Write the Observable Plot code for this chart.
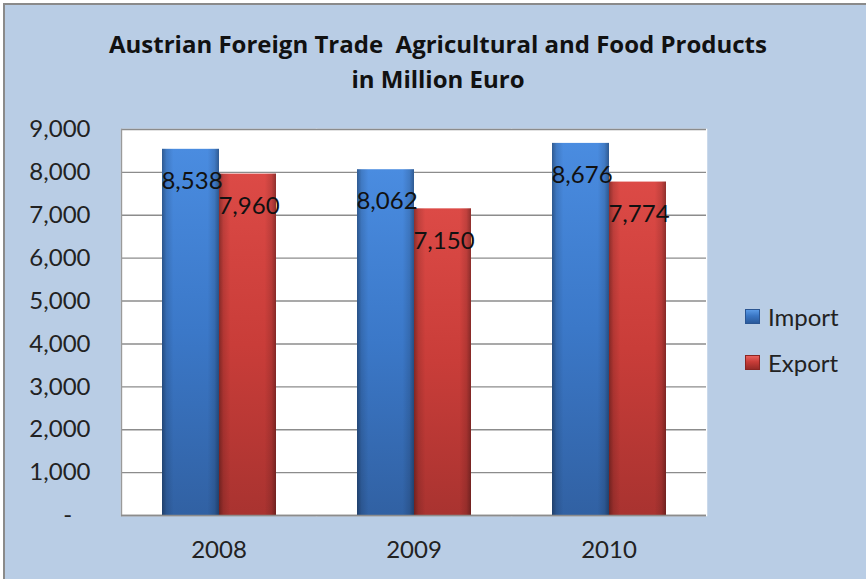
<!DOCTYPE html>
<html>
<head>
<meta charset="utf-8">
<script src="https://cdn.jsdelivr.net/npm/d3@7"></script>
<script src="https://cdn.jsdelivr.net/npm/@observablehq/plot@0.6"></script>
<style>
  html, body { margin: 0; padding: 0; background: #ffffff; overflow: hidden; width: 866px; height: 579px; }
  #chart { position: absolute; left: 3px; top: 3px; width: 880px; height: 590px; border: 2px solid #8a8a8a; background: #b9cde5; overflow: hidden; }
  #title { position: absolute; left: 0; top: 21px; width: 866px; text-align: center; font-family: "Open Sans", Lato, sans-serif; font-weight: 700; font-size: 24px; line-height: 35px; color: #111; white-space: pre; }
  #plot { position: absolute; left: 0; top: 105px; }
  #legend { position: absolute; left: 740px; top: 288px; font-family: Lato, sans-serif; font-size: 24px; color: #222; }
  .item { display: flex; align-items: center; height: 46px; }
  .sw { width: 15px; height: 15px; margin-right: 8px; box-sizing: border-box; }
</style>
</head>
<body>
<div id="chart">
  <div id="title"></div>
  <div id="plot"></div>
  <div id="legend"></div>
</div>
<script>
const titleLines = ["Austrian Foreign Trade  Agricultural and Food Products", "in Million Euro"];
const years = ["2008", "2009", "2010"];
const series = ["Import", "Export"];
const importValues = [8538, 8062, 8676];
const exportValues = [7960, 7150, 7774];
const yTicks = [0, 1000, 2000, 3000, 4000, 5000, 6000, 7000, 8000, 9000];
const seriesFill = {Import: "url(#gBlue)", Export: "url(#gRed)"};
const seriesSwatch = {
  Import: "linear-gradient(180deg, #5a9ae6 0%, #3a76c4 45%, #2a5a9c 100%)",
  Export: "linear-gradient(180deg, #e8605c 0%, #c83c38 45%, #962a27 100%)"
};

const data = [];
years.forEach((yr, i) => {
  data.push({year: yr, series: "Import", value: importValues[i]});
  data.push({year: yr, series: "Export", value: exportValues[i]});
});

document.getElementById("title").textContent = titleLines.join("\n");

const fmt = d3.format(",");
const plot = Plot.plot({
  width: 861,
  height: 469,
  marginLeft: 115,
  marginRight: 160,
  marginTop: 19,
  marginBottom: 64,
  style: {fontFamily: "Lato, sans-serif", fontSize: "24px", color: "#222", background: "transparent", overflow: "visible"},
  fx: {domain: years, padding: 0, label: null},
  x: {domain: series, paddingInner: 0, paddingOuter: 0.7, axis: null},
  y: {domain: [0, 9000], axis: null},
  marks: [
    Plot.frame({fill: "white", stroke: "white", strokeWidth: 1.5}),
    Plot.gridY(yTicks, {stroke: "#8c8c8c", strokeOpacity: 1, strokeWidth: 1.4}),
    Plot.frame({anchor: "left", facetAnchor: "left", stroke: "#9a9a9a", strokeWidth: 1.4}),
    Plot.barY(data, {fx: "year", x: "series", y: "value", fill: d => seriesFill[d.series]}),
    Plot.barY(data, {fx: "year", x: "series", y: "value", fill: "url(#gShade)"}),
    Plot.ruleY([0], {stroke: "#8c8c8c", strokeWidth: 1.6}),
    Plot.text(data, {fx: "year", x: "series", y: "value", text: d => fmt(d.value), dy: 32, dx: 1, fill: "#111", fontSize: 24}),
    Plot.axisY(yTicks, {anchor: "left", tickSize: 0, tickPadding: 31, tickFormat: d => d === 0 ? "-\u00a0\u00a0\u00a0" : fmt(d), label: null, fill: "#222"}),
    Plot.axisFx({anchor: "bottom", tickSize: 0, tickPadding: 25, label: null, fill: "#222"})
  ]
});

// gradient definitions for bevelled bars
const svg = d3.select(plot);
const defs = svg.insert("defs", ":first-child");
function vgrad(id, stops) {
  const g = defs.append("linearGradient").attr("id", id).attr("x1", 0).attr("y1", 0).attr("x2", 0).attr("y2", 1);
  stops.forEach(([o, c]) => g.append("stop").attr("offset", o).attr("stop-color", c));
}
vgrad("gBlue", [[0, "#4a8ce0"], [0.5, "#3b78c8"], [1, "#3161a3"]]);
vgrad("gRed", [[0, "#dc4a46"], [0.5, "#c93d39"], [1, "#a93330"]]);
const sh = defs.append("linearGradient").attr("id", "gShade").attr("x1", 0).attr("y1", 0).attr("x2", 1).attr("y2", 0);
[[0, 0.35], [0.08, 0.12], [0.2, 0], [0.8, 0], [0.92, 0.12], [1, 0.35]].forEach(([o, a]) =>
  sh.append("stop").attr("offset", o).attr("stop-color", "#000").attr("stop-opacity", a));

document.getElementById("plot").appendChild(plot);

const legend = d3.select("#legend");
series.forEach(s => {
  const it = legend.append("div").attr("class", "item");
  it.append("div").attr("class", "sw").style("background", seriesSwatch[s]).style("border", "1px solid " + (s === "Import" ? "#2a5592" : "#8a2522"));
  it.append("span").text(s);
});
</script>
</body>
</html>
